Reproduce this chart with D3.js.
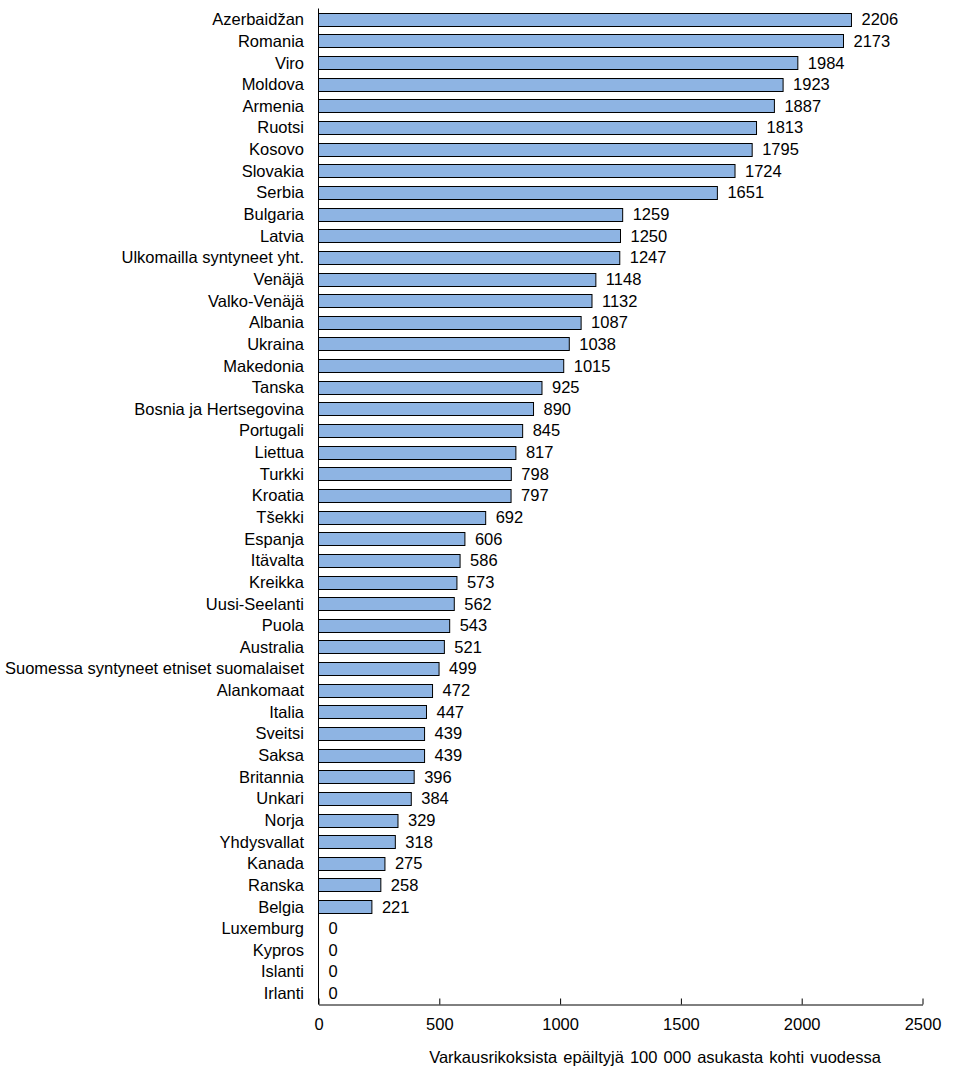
<!DOCTYPE html>
<html><head><meta charset="utf-8">
<script src="https://cdn.jsdelivr.net/npm/d3@7"></script>
<style>body{margin:0;background:#fff}svg{display:block}text{font-family:Arial,"Liberation Sans",sans-serif;fill:#000}</style>
</head><body>
<script>
const categories = ["Azerbaidžan","Romania","Viro","Moldova","Armenia","Ruotsi","Kosovo","Slovakia","Serbia","Bulgaria","Latvia","Ulkomailla syntyneet yht.","Venäjä","Valko-Venäjä","Albania","Ukraina","Makedonia","Tanska","Bosnia ja Hertsegovina","Portugali","Liettua","Turkki","Kroatia","Tšekki","Espanja","Itävalta","Kreikka","Uusi-Seelanti","Puola","Australia","Suomessa syntyneet etniset suomalaiset","Alankomaat","Italia","Sveitsi","Saksa","Britannia","Unkari","Norja","Yhdysvallat","Kanada","Ranska","Belgia","Luxemburg","Kypros","Islanti","Irlanti"];
const values = [2206,2173,1984,1923,1887,1813,1795,1724,1651,1259,1250,1247,1148,1132,1087,1038,1015,925,890,845,817,798,797,692,606,586,573,562,543,521,499,472,447,439,439,396,384,329,318,275,258,221,0,0,0,0];
const xTicks = [0,500,1000,1500,2000,2500];
const axisTitle = "Varkausrikoksista epäiltyjä 100 000 asukasta kohti vuodessa";

const W = 953, H = 1075;
const FS = 16.5;
const svg = d3.select("body").append("svg").attr("width", W).attr("height", H);
const x = d3.scaleLinear().domain([0, 2500]).range([318.5, 922.5]);
const y = d3.scaleBand().domain(categories).range([8.5, 1004]).paddingInner(0.4).paddingOuter(0.2);

svg.append("g").selectAll("rect").data(values).join("rect")
  .attr("x", x(0)).attr("y", (d, i) => Math.round(y(categories[i])) + 0.5)
  .attr("width", d => x(d) - x(0)).attr("height", Math.round(y.bandwidth()))
  .attr("fill", d => d > 0 ? "#8EB4E3" : "none").attr("stroke", d => d > 0 ? "#000" : "none").attr("stroke-width", 1);

svg.append("g").selectAll("text").data(values).join("text")
  .attr("x", d => x(d) + 10).attr("y", (d, i) => y(categories[i]) + y.bandwidth() / 2)
  .attr("dy", "0.36em").attr("font-size", FS).text(d => d);

svg.append("g").selectAll("text").data(categories).join("text")
  .attr("x", 304).attr("y", d => y(d) + y.bandwidth() / 2)
  .attr("dy", "0.36em").attr("text-anchor", "end").attr("font-size", FS).text(d => d);

// y axis line
svg.append("line").attr("x1", x(0)).attr("x2", x(0)).attr("y1", 8.5).attr("y2", 1004.5).attr("stroke", "#000");

const xa = svg.append("g").attr("transform", "translate(0,1004.5)")
  .call(d3.axisBottom(x).tickValues(xTicks).tickFormat(d3.format("d")).tickSize(-6).tickSizeOuter(0).tickPadding(14));
xa.select(".domain").attr("stroke", "#000");
xa.selectAll("text").attr("font-size", FS).attr("font-family", "Arial, 'Liberation Sans', sans-serif");

svg.append("text").attr("x", 655).attr("y", 1063).attr("text-anchor", "middle")
  .attr("font-size", FS).attr("word-spacing", "1.5px").text(axisTitle);
</script>
</body></html>
